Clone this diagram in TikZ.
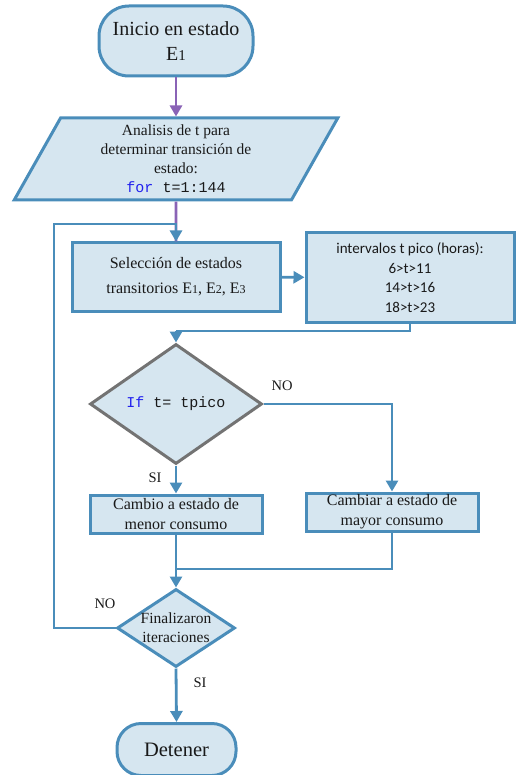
\documentclass[tikz,border=0pt]{standalone}
\usepackage{fontspec}
\setmainfont{Liberation Serif}
\setmonofont{Liberation Mono}
\newfontfamily\calibri{Carlito}
\usetikzlibrary{shapes.geometric,arrows.meta}
\definecolor{boxfill}{HTML}{D6E6F0}
\definecolor{boxline}{HTML}{4A8DBA}
\definecolor{flowpurple}{HTML}{8A63B6}
\definecolor{codeblue}{HTML}{2222EE}
\newcommand\estnum[1]{\scalebox{0.75}{#1}}

\begin{document}
\begin{tikzpicture}[x=1pt, y=-1pt,
        every node/.style={align=center, text=black!90},
        terminal/.style={rectangle, rounded corners=30pt, draw=boxline, fill=boxfill, line width=3pt},
        process/.style={rectangle, draw=boxline, fill=boxfill, line width=3pt, inner sep=0pt},
        decision/.style={diamond, fill=boxfill, line width=3pt, inner sep=-5pt},
        flow/.style={draw=boxline, line width=2.8pt},
        arrowflow/.style={flow, -{Triangle[length=11pt,width=12pt]}},
        branch/.style={font=\fontsize{14.5}{16}\selectfont}
    ]
        \useasboundingbox (0,0) rectangle (516,775);

        % Draw the start and the loop header
        \node[terminal, minimum width=154, minimum height=70, font=\fontsize{20}{25}\selectfont]
            (start) at (176,41) {Inicio en estado\\E\estnum{1}};
        \node[trapezium, trapezium left angle=66, trapezium right angle=114, trapezium stretches=true,
              minimum width=324, minimum height=82, draw=boxline, fill=boxfill, line width=3pt,
              inner sep=0pt, font=\fontsize{15.5}{19}\selectfont]
            (analisis) at (176,159) {Analisis de t para\\determinar transición de\\estado:\\
            {\ttfamily\fontsize{15}{19}\selectfont{\color{codeblue}for} t=1:144}};

        % Add the state selection
        \node[process, minimum width=208, minimum height=68, font=\fontsize{16}{25}\selectfont]
            (seleccion) at (176,277) {Selección de estados\\transitorios E\estnum{1}, E\estnum{2}, E\estnum{3}};
        \node[process, minimum width=208, minimum height=89, font=\calibri\fontsize{15}{19.5}\selectfont]
            (intervalos) at (410,277.5) {intervalos t pico (horas):\\6>t>11\\14>t>16\\18>t>23};

        % Add the decisions and the two state changes
        \node[decision, draw=black!55, minimum width=172, minimum height=120, aspect=1.43,
              font=\ttfamily\fontsize{15}{17}\selectfont]
            (tpico) at (176,404) {{\color{codeblue}If} t= tpico};
        \node[process, minimum width=172, minimum height=38, font=\fontsize{16}{20}\selectfont]
            (menor) at (176,514) {Cambio a estado de\\menor consumo};
        \node[process, minimum width=172, minimum height=38, font=\fontsize{16}{20}\selectfont]
            (mayor) at (392,512) {Cambiar a estado de\\mayor consumo};
        \node[decision, draw=boxline, minimum width=118, minimum height=78, aspect=1.5,
              font=\fontsize{15.5}{19}\selectfont]
            (fin) at (176,628) {Finalizaron\\iteraciones};
        \node[terminal, minimum width=119, minimum height=52, rounded corners=24pt, font=\fontsize{20.5}{24}\selectfont]
            (stop) at (176.5,749.5) {Detener};

        % Add helper points for the bends
        \coordinate (merge) at (176,331);
        \coordinate (join) at (176,569);
        \coordinate (loop) at (54,224);

        % Draw the connectors
        \draw[flowpurple, line width=2.8pt, -{Triangle[length=11pt,width=12pt]}] (start) -- (analisis);
        \draw[flowpurple, line width=2.8pt] (analisis.south) -- (seleccion.north);
        \draw[arrowflow] (fin.west) -| (loop) -| (seleccion.north);
        \draw[arrowflow] (seleccion) -- (intervalos);
        \draw[flow] (intervalos.south) |- (merge);
        \draw[arrowflow] (merge) -- (tpico.north);
        \draw[arrowflow] (tpico.east) -| (mayor.north);
        \draw[arrowflow] (tpico.south) -- (menor.north);
        \draw[arrowflow] (menor.south) -- (fin.north);
        \draw[flow] (mayor.south) |- (join);
        \draw[arrowflow] (fin.south) -- (stop.north);

        % Add branch labels
        \node[branch] (noA) at (282,386) {NO};
        \node[branch] (siA) at (155,478) {SI};
        \node[branch] (noB) at (105,604) {NO};
        \node[branch] (siB) at (200,683) {SI};
    \end{tikzpicture}
\end{document}
